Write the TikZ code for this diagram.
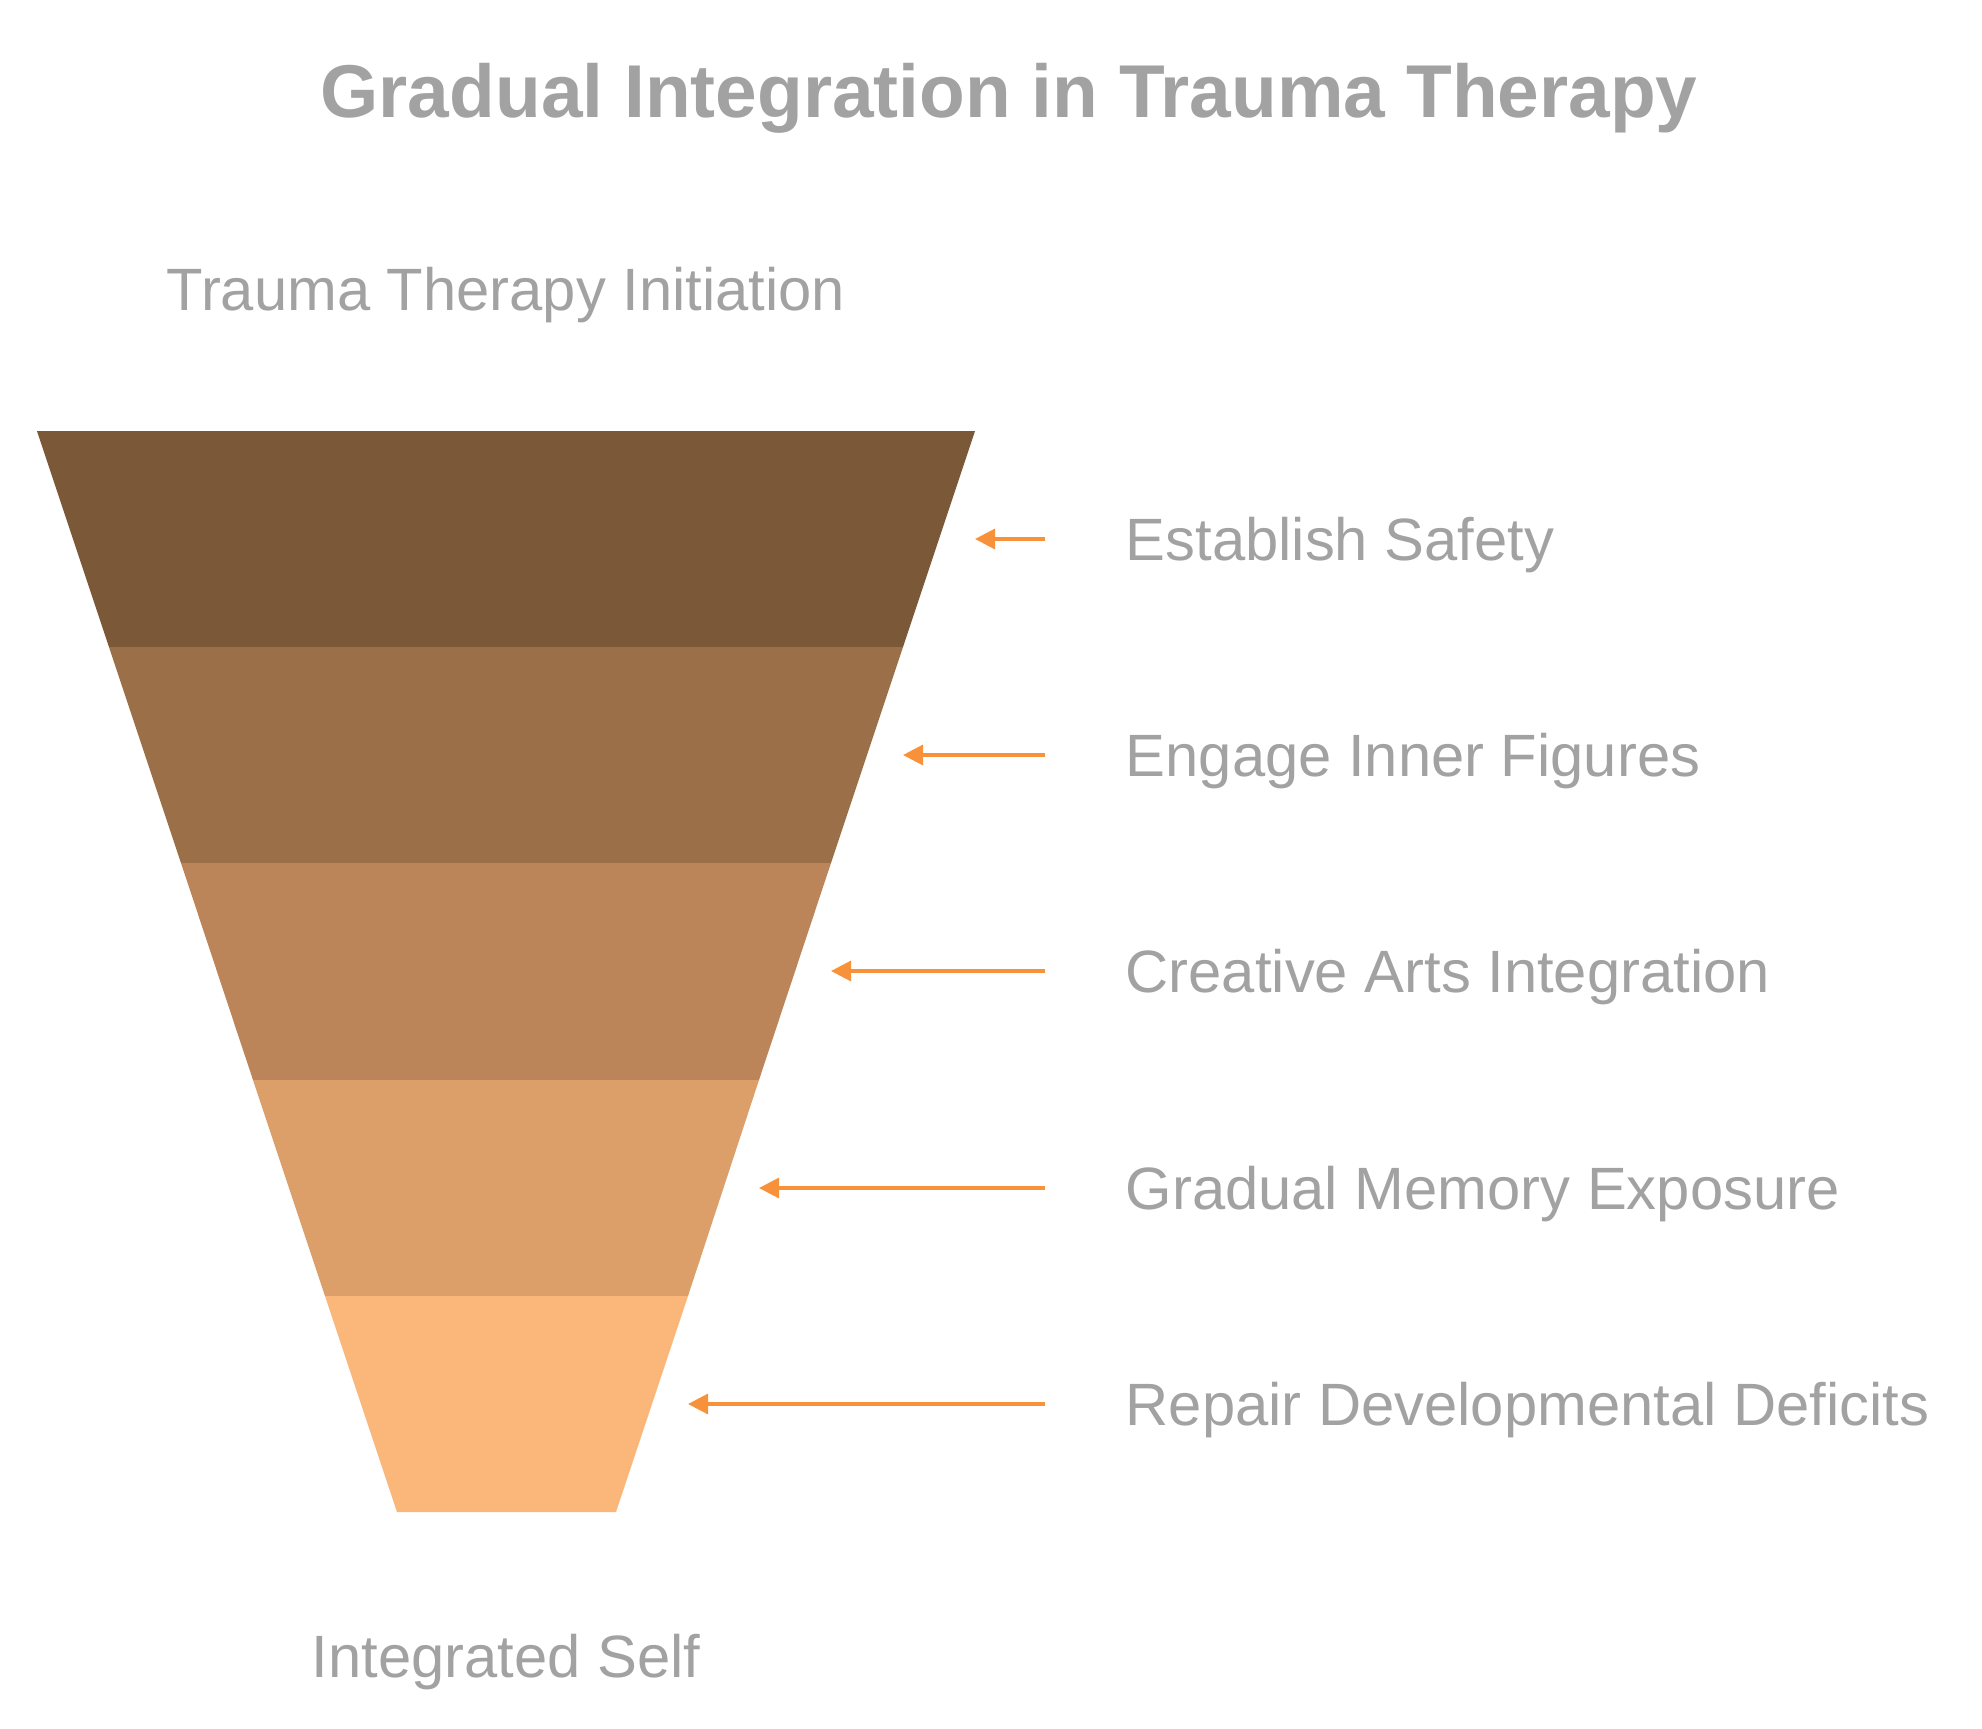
\documentclass[tikz,border=0pt]{standalone}
\usepackage{fontspec}
\setmainfont{Liberation Sans}
\definecolor{gris}{HTML}{A2A2A2}
\definecolor{naranja}{HTML}{F7923A}
\definecolor{capaA}{HTML}{7B5837}
\definecolor{capaB}{HTML}{9B6F48}
\definecolor{capaC}{HTML}{BB8559}
\definecolor{capaD}{HTML}{DC9F6A}
\definecolor{capaE}{HTML}{FBB77A}
\usetikzlibrary{arrows.meta, positioning}

\begin{document}
\begin{tikzpicture}[
  titletext/.style={text=gris, font=\fontsize{21.3pt}{24pt}\selectfont\bfseries,
                    anchor=base, inner sep=0pt},
  endtext/.style={text=gris, font=\fontsize{17pt}{20pt}\selectfont,
                  anchor=base, inner sep=0pt},
  stagetext/.style={text=gris, font=\fontsize{17pt}{20pt}\selectfont,
                    anchor=west, inner sep=0pt, text height=0.43cm, text depth=0pt},
  pointer/.style={naranja, line width=0.9pt,
                  -{Triangle[length=0.2cm, width=0.2cm]}},
]
\useasboundingbox (0,0) rectangle (19.82,-17.28);

% funnel layers
\fill[capaA] (0.37,-4.31) -- (9.75,-4.31) -- (9.03,-6.47) -- (1.09,-6.47) -- cycle;
\fill[capaB] (1.09,-6.47) -- (9.03,-6.47) -- (8.31,-8.63) -- (1.81,-8.63) -- cycle;
\fill[capaC] (1.81,-8.63) -- (8.31,-8.63) -- (7.59,-10.80) -- (2.53,-10.80) -- cycle;
\fill[capaD] (2.53,-10.80) -- (7.59,-10.80) -- (6.88,-12.96) -- (3.25,-12.96) -- cycle;
\fill[capaE] (3.25,-12.96) -- (6.88,-12.96) -- (6.16,-15.12) -- (3.97,-15.12) -- cycle;

\node[titletext] (title) at (10.09,-1.17) {Gradual Integration in Trauma Therapy};
\node[endtext] (start) at (5.06,-3.10) {Trauma Therapy Initiation};
\node[endtext] (finish) at (5.06,-16.77) {Integrated Self};

% arrow tips on the funnel side
\coordinate (tipA) at (9.75,-5.39);
\coordinate (tipB) at (9.03,-7.55);
\coordinate (tipC) at (8.31,-9.71);
\coordinate (tipD) at (7.59,-11.88);
\coordinate (tipE) at (6.88,-14.04);

\node[stagetext] (safety) at (11.25,-5.39) {Establish Safety};
\node[stagetext] (figures) at (11.25,-7.55) {Engage Inner Figures};
\node[stagetext] (arts) at (11.25,-9.71) {Creative Arts Integration};
\node[stagetext] (memory) at (11.25,-11.88) {Gradual Memory Exposure};
\node[stagetext] (repair) at (11.25,-14.04) {Repair Developmental Deficits};

\draw[pointer] ([xshift=-8mm]safety.west) -- (tipA);
\draw[pointer] ([xshift=-8mm]figures.west) -- (tipB);
\draw[pointer] ([xshift=-8mm]arts.west) -- (tipC);
\draw[pointer] ([xshift=-8mm]memory.west) -- (tipD);
\draw[pointer] ([xshift=-8mm]repair.west) -- (tipE);
\end{tikzpicture}
\end{document}
